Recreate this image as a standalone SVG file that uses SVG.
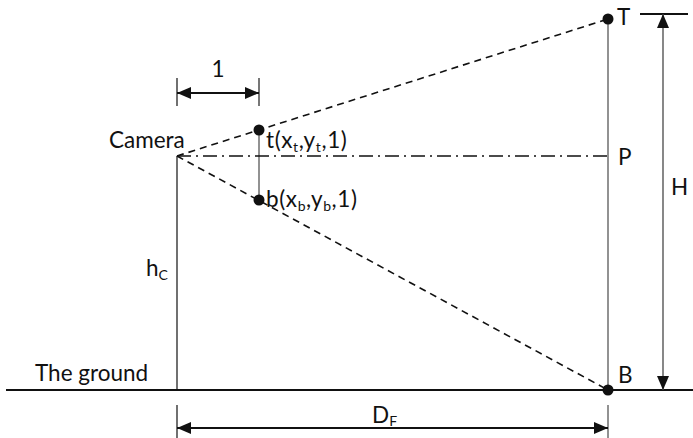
<svg xmlns="http://www.w3.org/2000/svg" width="693" height="438" viewBox="0 0 693 438">
<defs>
<marker id="ah" viewBox="0 0 14 12" refX="14" refY="6" markerWidth="14" markerHeight="12" markerUnits="userSpaceOnUse" orient="auto-start-reverse">
<path d="M0,0 L14,6 L0,12 Z" fill="#111"/>
</marker>
<style>
text{font-family:Lato,"Open Sans","Liberation Sans",sans-serif;font-size:22.5px;fill:#111}
.sub{font-size:14px}
.pt{letter-spacing:0.6px}
.blk{stroke:#111;stroke-width:1.2;fill:none}
.gry{stroke:#777;stroke-width:1.6;fill:none}
.dash{stroke:#111;stroke-width:1.6;stroke-dasharray:7 5;fill:none}
.dd{stroke:#111;stroke-width:1.4;stroke-dasharray:14 5 2 5;fill:none}
.arr{stroke:#111;stroke-width:2;fill:none}
.dot{fill:#111}
</style>
</defs>
<g id="connectors">
<line class="blk" x1="6" y1="390" x2="693" y2="390" style="stroke-width:2"/>
<line class="blk" x1="177" y1="156" x2="177" y2="390"/>
<line class="gry" x1="608" y1="19" x2="608" y2="390"/>
<line class="gry" x1="259" y1="130" x2="259" y2="200"/>
<line class="dash" x1="177" y1="156" x2="608" y2="19"/>
<line class="dash" x1="177" y1="156" x2="608" y2="390"/>
<line class="dd" x1="177" y1="156" x2="608" y2="156"/>
<line class="blk" x1="177" y1="78" x2="177" y2="106"/>
<line class="gry" x1="259" y1="78" x2="259" y2="106" style="stroke:#555"/>
<line class="arr" x1="177" y1="93" x2="259" y2="93" marker-start="url(#ah)" marker-end="url(#ah)"/>
<line class="blk" x1="640" y1="14" x2="688" y2="14" style="stroke-width:2"/>
<line class="gry" x1="663" y1="14" x2="663" y2="390" style="stroke:#555;stroke-width:1.4" marker-start="url(#ah)" marker-end="url(#ah)"/>
<line class="blk" x1="177" y1="405" x2="177" y2="438"/>
<line class="gry" x1="608" y1="405" x2="608" y2="438"/>
<line class="arr" x1="177" y1="428" x2="608" y2="428" marker-start="url(#ah)" marker-end="url(#ah)"/>
</g>
<g id="camera"><text x="109" y="148">Camera</text></g>
<g id="t"><circle class="dot" cx="259" cy="130" r="5.5"/><text class="pt" x="266" y="148">t(x<tspan class="sub" dy="4">t</tspan><tspan dy="-4">,y</tspan><tspan class="sub" dy="4">t</tspan><tspan dy="-4">,1)</tspan></text></g>
<g id="b"><circle class="dot" cx="259" cy="200" r="5.5"/><text class="pt" x="266" y="207">b(x<tspan class="sub" dy="4">b</tspan><tspan dy="-4">,y</tspan><tspan class="sub" dy="4">b</tspan><tspan dy="-4">,1)</tspan></text></g>
<g id="T"><circle class="dot" cx="608" cy="19" r="5.5"/><text x="617" y="25">T</text></g>
<g id="P"><text x="618" y="165">P</text></g>
<g id="B"><circle class="dot" cx="608" cy="390" r="5.5"/><text x="618" y="383">B</text></g>
<g id="one"><text x="218" y="77" text-anchor="middle">1</text></g>
<g id="H"><text x="679.5" y="195" text-anchor="middle">H</text></g>
<g id="hc"><text x="146" y="276">h<tspan class="sub" dy="4">C</tspan></text></g>
<g id="ground"><text x="35" y="381">The ground</text></g>
<g id="DF"><text x="372" y="423">D<tspan class="sub" dy="3">F</tspan></text></g>
</svg>
